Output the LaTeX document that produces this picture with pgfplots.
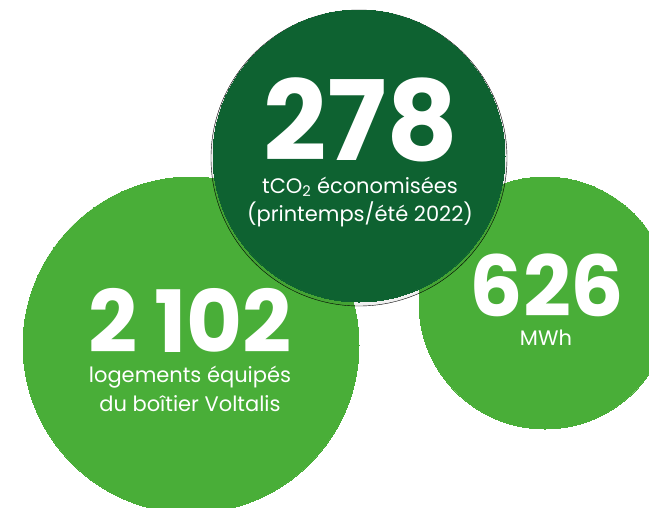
\documentclass[border=0pt]{standalone}
\usepackage{fontspec}
\setmainfont{Poppins}
\usepackage{pgfplots}
\pgfplotsset{compat=1.18}
\definecolor{lightgreen}{HTML}{49AE38}
\definecolor{darkgreen}{HTML}{0E6231}
\pgfplotsset{bubble/.style={only marks, mark=*, mark options={draw=#1, line width=0pt, fill=#1}},
  shade/.style={only marks, mark=*, mark options={draw=none, fill=black, fill opacity=#1}}}
\begin{document}
\begin{tikzpicture}
\useasboundingbox (0,0) rectangle (649pt,507pt);
\begin{axis}[at={(0,0)},anchor=south west, scale only axis, width=649pt, height=507pt,
  xmin=0,xmax=649,ymin=0,ymax=507, y dir=reverse, hide axis, clip marker paths=true]
% light circles
\addplot[bubble=lightgreen, mark size=168pt] coordinates {(191,345)};
\addplot[bubble=lightgreen, mark size=126pt] coordinates {(545,303)};
% dark circle soft shadow
\addplot[shade=0.06, mark size=148pt] coordinates {(359,158)};
% dark circle
\addplot[bubble=darkgreen, mark size=146pt] coordinates {(359,156)};
% texts
\tikzset{lab/.style={anchor=base, text=white, inner sep=0pt}}
\node[lab, font=\bfseries\fontsize{111}{111}\selectfont] at (axis cs:361,160) {278};
\node[lab, align=center, font=\fontsize{21}{28}\selectfont] at (axis cs:360,221) {tCO\textsubscript{2} économisées\\(printemps/été 2022)};
\node[lab, font=\bfseries\fontsize{86}{86}\selectfont] at (axis cs:190,352) {2\hspace{0.2em}102};
\node[lab, align=center, font=\fontsize{21}{29}\selectfont] at (axis cs:190,411) {logements équipés\\du boîtier Voltalis};
\node[lab, font=\bfseries\fontsize{84}{84}\selectfont] at (axis cs:547,316) {626};
\node[lab, font=\fontsize{21}{21}\selectfont] at (axis cs:546,345) {MWh};
\end{axis}
\end{tikzpicture}
\end{document}
